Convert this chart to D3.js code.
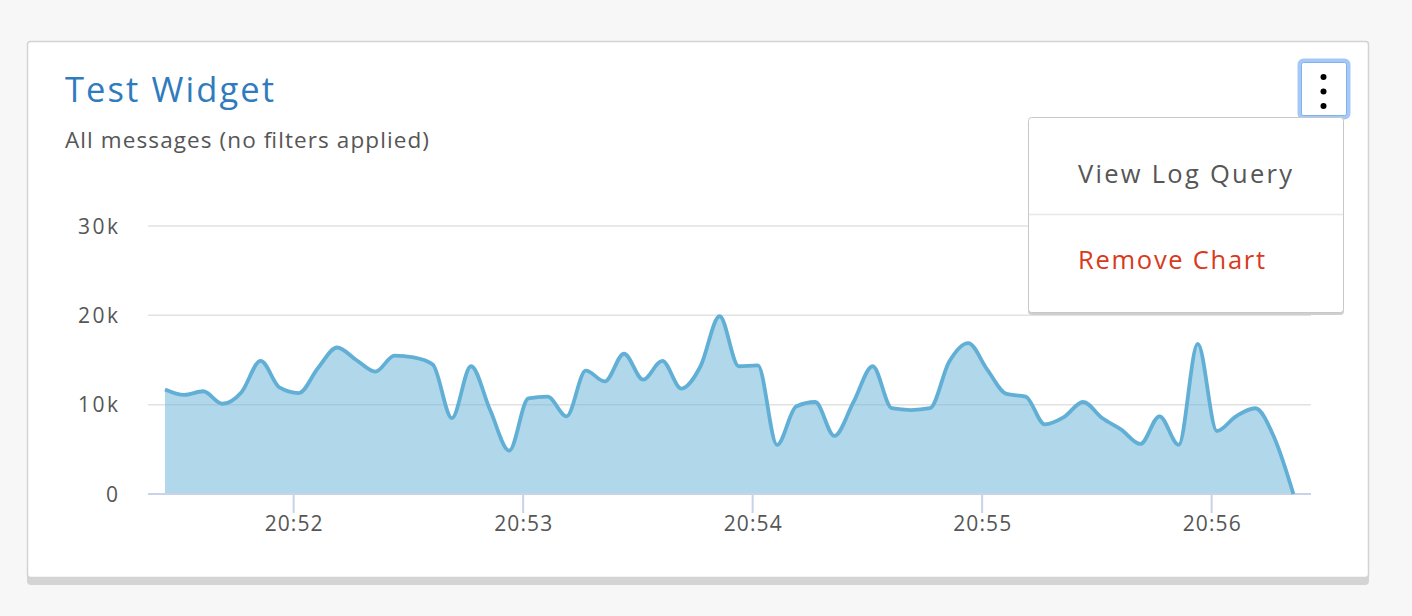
<!DOCTYPE html>
<html>
<head>
<meta charset="utf-8">
<script src="https://cdn.jsdelivr.net/npm/d3@7"></script>
<style>
  html, body { margin: 0; padding: 0; background: #f7f7f7; }
  svg { display: block; font-family: "Open Sans", Lato, sans-serif; }
</style>
</head>
<body>
<svg id="chart" width="1412" height="616"></svg>
<script>
// ---- data ----
const title = "Test Widget";
const subtitle = "All messages (no filters applied)";
const menuItems = ["View Log Query", "Remove Chart"];
const startTime = "2017-01-01T20:51:26.5";
const stepSeconds = 5;
const messageCounts = [
  11700, 11100, 11500, 10100, 11400, 14900, 11900, 11300, 14100, 16400,
  15000, 13700, 15500, 15300, 14500, 8500, 14300, 9400, 4850, 10700,
  10900, 8700, 13800, 12600, 15700, 12800, 14900, 11800, 14300, 19900,
  14300, 14400, 5500, 9800, 10300, 6500, 10300, 14300, 9600, 9400,
  9600, 14800, 16900, 13900, 11200, 10900, 7800, 8600, 10300, 8500,
  7200, 5600, 8700, 5500, 16800, 7050, 8700, 9600, 6300, 0
];
const yTicks = [0, 10000, 20000, 30000];
const yTickLabels = ["0", "10k", "20k", "30k"];
const xTickTimes = ["2017-01-01T20:52:00", "2017-01-01T20:53:00", "2017-01-01T20:54:00", "2017-01-01T20:55:00", "2017-01-01T20:56:00"];
const xTickLabels = ["20:52", "20:53", "20:54", "20:55", "20:56"];

// ---- build ----
const t0 = new Date(startTime);
const data = messageCounts.map((v, i) => ({ t: new Date(t0.getTime() + i * stepSeconds * 1000), v }));

const svg = d3.select("#chart");

// card
svg.append("rect").attr("x", 27).attr("y", 45).attr("width", 1342).attr("height", 540)
  .attr("rx", 4).attr("fill", "#d4d4d4");
svg.append("rect").attr("x", 27.5).attr("y", 41.5).attr("width", 1341).attr("height", 536)
  .attr("rx", 3).attr("fill", "#fff").attr("stroke", "#d3d3d3").attr("stroke-width", 1.5);

svg.append("text").attr("x", 65).attr("y", 102).attr("fill", "#2f7bbd")
  .attr("font-size", 34.5).attr("textLength", 209).attr("lengthAdjust", "spacing").text(title);
svg.append("text").attr("x", 65).attr("y", 148).attr("fill", "#565656")
  .attr("font-size", 22.5).attr("textLength", 364).attr("lengthAdjust", "spacing").text(subtitle);

// scales
const x = d3.scaleTime()
  .domain([t0, data[data.length - 1].t])
  .range([165, 1293.4]);
const y = d3.scaleLinear().domain([0, 30000]).range([494, 226]);

const plotLeft = 148, plotRight = 1311;

// gridlines
svg.append("g").selectAll("line").data(yTicks.filter(d => d > 0)).join("line")
  .attr("x1", plotLeft).attr("x2", plotRight)
  .attr("y1", d => y(d)).attr("y2", d => y(d))
  .attr("stroke", "#e2e2e2").attr("stroke-width", 1.5);

// y labels
svg.append("g").selectAll("text").data(yTicks).join("text")
  .attr("x", 118).attr("y", d => y(d)).attr("dy", "0.36em")
  .attr("text-anchor", "end").attr("fill", "#565656").attr("font-size", 21)
  .attr("textLength", (d, i) => yTickLabels[i].length === 1 ? 14 : 40)
  .attr("lengthAdjust", "spacing")
  .text((d, i) => yTickLabels[i]);

// area + line
const area = d3.area().x(d => x(d.t)).y0(y(0)).y1(d => y(d.v)).curve(d3.curveMonotoneX);
const line = d3.line().x(d => x(d.t)).y(d => y(d.v)).curve(d3.curveMonotoneX);
svg.append("path").datum(data).attr("d", area).attr("fill", "#62afd6").attr("fill-opacity", 0.5);

// x axis
const xAxis = d3.axisBottom(x)
  .tickValues(xTickTimes.map(s => new Date(s)))
  .tickFormat((d, i) => xTickLabels[i])
  .tickSize(19).tickPadding(3).tickSizeOuter(0);
const gx = svg.append("g").attr("transform", "translate(0,494)").call(xAxis);
gx.select(".domain").remove();
gx.append("line").attr("x1", plotLeft).attr("x2", plotRight).attr("y1", 0).attr("y2", 0)
  .attr("stroke", "#c8d2e8").attr("stroke-width", 2);
gx.selectAll(".tick line").attr("stroke", "#c8d2e8").attr("stroke-width", 2);
gx.selectAll(".tick text").attr("fill", "#565656").attr("font-size", 21)
  .attr("font-family", "'Open Sans', Lato, sans-serif")
  .attr("textLength", 58).attr("lengthAdjust", "spacing");

svg.append("path").datum(data).attr("d", line).attr("fill", "none")
  .attr("stroke", "#62afd6").attr("stroke-width", 3.8).attr("stroke-linejoin", "round");

// menu button
svg.append("rect").attr("x", 1299.5).attr("y", 60.5).attr("width", 49).attr("height", 57)
  .attr("rx", 4).attr("fill", "#fff").attr("stroke", "#a6c8f5").attr("stroke-width", 4);
svg.append("rect").attr("x", 1301.5).attr("y", 62.5).attr("width", 45).attr("height", 53)
  .attr("rx", 2).attr("fill", "none").attr("stroke", "#7fb2f2").attr("stroke-width", 1);
svg.append("g").selectAll("circle").data([77, 91.5, 106]).join("circle")
  .attr("cx", 1323.5).attr("cy", d => d).attr("r", 3).attr("fill", "#000");

// dropdown
svg.append("rect").attr("x", 1028).attr("y", 119).attr("width", 316).attr("height", 196)
  .attr("rx", 4).attr("fill", "#cfcfcf");
svg.append("rect").attr("x", 1028.5).attr("y", 117.5).attr("width", 315).attr("height", 195)
  .attr("rx", 3).attr("fill", "#fff").attr("stroke", "#c8c8c8").attr("stroke-width", 1);
svg.append("line").attr("x1", 1029).attr("x2", 1343).attr("y1", 214.5).attr("y2", 214.5)
  .attr("stroke", "#e8e8e8").attr("stroke-width", 1.5);
svg.append("text").attr("x", 1078).attr("y", 183).attr("fill", "#565656")
  .attr("font-size", 25.5).attr("textLength", 214).attr("lengthAdjust", "spacing").text(menuItems[0]);
svg.append("text").attr("x", 1078).attr("y", 269).attr("fill", "#d9391c")
  .attr("font-size", 25.5).attr("textLength", 187).attr("lengthAdjust", "spacing").text(menuItems[1]);
</script>
</body>
</html>
